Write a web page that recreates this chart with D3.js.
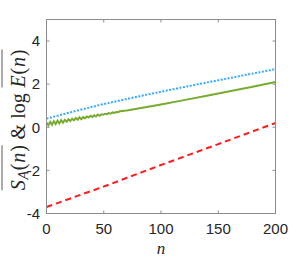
<!DOCTYPE html>
<html>
<head>
<meta charset="utf-8">
<script src="https://cdn.jsdelivr.net/npm/d3@7"></script>
<style>
  html, body { margin: 0; padding: 0; background: #fff; }
  svg { display: block; }
</style>
</head>
<body>
<div id="chart"></div>
<script>
// data
const xTicks = [0, 50, 100, 150, 200];
const yTicks = [-4, -2, 0, 2, 4];

const blueN = [0, 25, 50, 75, 100, 125, 150, 175, 200];
const blueV = [0.40, 0.75, 1.08, 1.37, 1.65, 1.92, 2.18, 2.44, 2.70];

// green wiggles at small n, then smooth
const greenN = [0, 1.6, 3.2, 4.8, 6.4, 8, 9.6, 11.2, 12.8, 14.4, 16, 17.6, 19.2, 20.8, 22.4, 24,
  25.6, 27.2, 28.8, 30.4, 32, 33.6, 35.2, 36.8, 38.4, 40, 41.6, 43.2, 44.8, 46.4, 48,
  49.6, 51.2, 52.8, 54.4, 56, 57.6, 59.2, 60.8, 62.4, 64,
  70, 80, 100, 120, 140, 160, 180, 200];
const greenV = [0.22, 0.09, 0.25, 0.12, 0.28, 0.15, 0.31, 0.18, 0.33, 0.21, 0.345, 0.26, 0.37, 0.29, 0.40, 0.32,
  0.43, 0.35, 0.46, 0.37, 0.47, 0.42, 0.50, 0.45, 0.53, 0.48, 0.56, 0.50, 0.59, 0.53, 0.60,
  0.58, 0.63, 0.61, 0.66, 0.63, 0.69, 0.67, 0.71, 0.70, 0.74,
  0.78, 0.87, 1.06, 1.26, 1.46, 1.67, 1.88, 2.10];

const redN = [0, 50, 100, 150, 200];
const redV = [-3.70, -2.75, -1.75, -0.78, 0.20];

// layout
const W = 305, H = 260;
const box = {left: 46.5, right: 275.5, top: 19.5, bottom: 213.5};

const svg = d3.select('#chart').append('svg')
    .attr('width', W)
    .attr('height', H);

const x = d3.scaleLinear().domain([0, 200]).range([box.left, box.right]);
const y = d3.scaleLinear().domain([-4, 5]).range([box.bottom, box.top]);

const axisColor = '#8c8c8c';
const tickLen = 3;

// lines
const line = d3.line().x(d => x(d[0])).y(d => y(d[1]));

svg.append('path')
    .datum(redN.map((n, i) => [n, redV[i]]))
    .attr('d', line)
    .attr('fill', 'none')
    .attr('stroke', '#ff1a1a')
    .attr('stroke-width', 2)
    .attr('stroke-dasharray', '6,4');

svg.append('path')
    .datum(blueN.map((n, i) => [n, blueV[i]]))
    .attr('d', line)
    .attr('fill', 'none')
    .attr('stroke', '#38aaff')
    .attr('stroke-width', 2)
    .attr('stroke-dasharray', '2,1.5');

svg.append('path')
    .datum(greenN.map((n, i) => [n, greenV[i]]))
    .attr('d', line)
    .attr('fill', 'none')
    .attr('stroke', '#77ac30')
    .attr('stroke-width', 2);

// box
svg.append('rect')
    .attr('x', box.left)
    .attr('y', box.top)
    .attr('width', box.right - box.left)
    .attr('height', box.bottom - box.top)
    .attr('fill', 'none')
    .attr('stroke', axisColor)
    .attr('stroke-width', 1);

// ticks (inside, all four sides)
const tickG = svg.append('g').attr('stroke', axisColor).attr('stroke-width', 1);
xTicks.forEach(t => {
    tickG.append('line').attr('x1', x(t)).attr('x2', x(t)).attr('y1', box.bottom).attr('y2', box.bottom - tickLen);
    tickG.append('line').attr('x1', x(t)).attr('x2', x(t)).attr('y1', box.top).attr('y2', box.top + tickLen);
});
yTicks.forEach(t => {
    tickG.append('line').attr('y1', y(t)).attr('y2', y(t)).attr('x1', box.left).attr('x2', box.left + tickLen);
    tickG.append('line').attr('y1', y(t)).attr('y2', y(t)).attr('x1', box.right).attr('x2', box.right - tickLen);
});

// tick labels
const labFont = '"Liberation Sans", Arial, sans-serif';
svg.append('g').selectAll('text')
    .data(xTicks)
    .join('text')
    .attr('x', d => x(d))
    .attr('y', 234)
    .attr('text-anchor', 'middle')
    .attr('font-family', labFont)
    .attr('font-size', 15)
    .attr('fill', '#262626')
    .text(d => d);

svg.append('g').selectAll('text')
    .data(yTicks)
    .join('text')
    .attr('x', 40)
    .attr('y', d => y(d) + 5.3)
    .attr('text-anchor', 'end')
    .attr('font-family', labFont)
    .attr('font-size', 15)
    .attr('fill', '#262626')
    .text(d => d);

// x label
svg.append('text')
    .attr('x', (box.left + box.right) / 2)
    .attr('y', 253.5)
    .attr('text-anchor', 'middle')
    .attr('font-family', '"Liberation Serif", serif')
    .attr('font-style', 'italic')
    .attr('font-size', 17)
    .attr('fill', '#262626')
    .text('n');

// y label: overline(S_A(n)) & log overline(E(n))
const fs = 20;
const yl = svg.append('g')
    .attr('transform', `translate(24.5, ${(box.top + box.bottom) / 2 + 3}) rotate(-90)`);
const pieces = [
    {t: 'S', it: true, g: 0},
    {t: 'A', it: true, sub: true, g: 0},
    {t: '(', g: 0},
    {t: 'n', it: true, g: 0},
    {t: ')', g: 0},
    {t: ' & log ', g: -1},
    {t: 'E', it: true, g: 1},
    {t: '(', g: 1},
    {t: 'n', it: true, g: 1},
    {t: ')', g: 1}
];
let cx = 0;
const spans = pieces.map(p => {
    const el = yl.append('text')
        .attr('x', cx)
        .attr('y', p.sub ? 3.5 : 0)
        .attr('font-family', '"Liberation Serif", serif')
        .attr('font-style', p.it ? 'italic' : 'normal')
        .attr('font-size', p.sub ? fs * 0.7 : fs)
        .attr('fill', '#262626')
        .style('white-space', 'pre')
        .text(p.t);
    const w = el.node().getComputedTextLength();
    const rec = {el, x0: cx, x1: cx + w, g: p.g};
    cx += w + 0.8;
    return rec;
});
const total = cx;
spans.forEach(s => s.el.attr('x', +s.el.attr('x') - total / 2));
[0, 1].forEach(g => {
    const ss = spans.filter(s => s.g === g);
    yl.append('line')
        .attr('x1', ss[0].x0 - total / 2)
        .attr('x2', ss[ss.length - 1].x1 - total / 2)
        .attr('y1', -22.5)
        .attr('y2', -22.5)
        .attr('stroke', '#8a8a8a')
        .attr('stroke-width', 1.4);
});
</script>
</body>
</html>
